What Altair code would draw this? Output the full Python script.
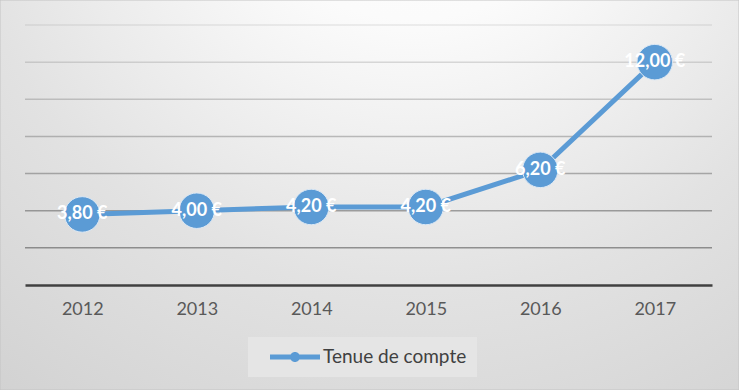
import altair as alt
import pandas as pd

years = ["2012", "2013", "2014", "2015", "2016", "2017"]
values = [3.80, 4.00, 4.20, 4.20, 6.20, 12.00]
series = "Tenue de compte"
grid_values = [2, 4, 6, 8, 10, 12, 14]

df = pd.DataFrame({"year": years, "value": values, "serie": [series] * len(years)})
grid_df = pd.DataFrame({"value": grid_values})
bg = pd.DataFrame({"k": [0]})

BLUE = "#5B9BD5"
FONT = "Lato"

background = alt.Chart(bg).mark_rect(
    fill={
        "gradient": "radial",
        "x1": 0.56, "y1": 0.0, "r1": 0.0,
        "x2": 0.56, "y2": 0.0, "r2": 1.05,
        "stops": [
            {"offset": 0.0, "color": "#ffffff"},
            {"offset": 0.25, "color": "#fbfbfb"},
            {"offset": 0.6, "color": "#e2e2e2"},
            {"offset": 1.0, "color": "#cdcdcd"},
        ],
    },
    stroke="#c4c4c4",
    strokeWidth=1,
).encode(
    x=alt.value(-25), x2=alt.value(714), y=alt.value(-25), y2=alt.value(365)
)

x_enc = alt.X(
    "year:O",
    scale=alt.Scale(type="point", padding=0.5),
    axis=alt.Axis(
        title=None, labelAngle=0, labelFont=FONT, labelFontSize=18,
        labelColor="#595959", labelPadding=15, ticks=False,
        domainColor="#404040", domainWidth=2.5, grid=False, zindex=1,
    ),
)
y_scale = alt.Scale(domain=[0, 14], nice=False, zero=True)
y_enc = alt.Y("value:Q", scale=y_scale, axis=None)

grid = alt.Chart(grid_df).mark_rule(color="#5a5a5a", strokeWidth=1.5).encode(
    y=alt.Y("value:Q", scale=y_scale, axis=None),
    x=alt.value(0),
    x2=alt.value(687),
    opacity=alt.Opacity(
        "value:Q", scale=alt.Scale(domain=[2, 14], range=[0.62, 0.12]), legend=None
    ),
)

legend_sym = (
    "M-2.5,-0.25L2.5,-0.25L2.5,0.25L-2.5,0.25Z"
    "M-0.5,0A0.5,0.5,0,1,1,0.5,0A0.5,0.5,0,1,1,-0.5,0Z"
)

line = alt.Chart(df).mark_line(strokeWidth=5).encode(
    x=x_enc,
    y=y_enc,
    color=alt.Color(
        "serie:N",
        scale=alt.Scale(domain=[series], range=[BLUE]),
        legend=alt.Legend(
            title=None, orient="none", legendX=223, legendY=312,
            direction="horizontal",
            symbolType=legend_sym, symbolSize=400, symbolStrokeWidth=0,
            symbolFillColor=BLUE, symbolOffset=27,
            labelFont=FONT, labelFontSize=19, labelColor="#404040",
            labelOffset=18, padding=10, fillColor="#e5e5e5",
        ),
    ),
)

points = alt.Chart(df).mark_circle(
    size=1260, opacity=1, color=BLUE, stroke="#dbe8f5", strokeWidth=1
).encode(x=x_enc, y=y_enc)

labels = alt.Chart(df).transform_calculate(
    lab="replace(format(datum.value, '.2f'), '.', ',') + ' €'"
).mark_text(
    font=FONT, fontSize=18, fontWeight="bold", color="white", baseline="middle", align="center"
).encode(x=x_enc, y=y_enc, text="lab:N")

chart = alt.layer(background, grid, line, points, labels).properties(
    width=687, height=260,
    padding={"left": 25, "top": 25, "right": 27, "bottom": 105},
    autosize=alt.AutoSizeParams(type="none"),
    background="#d6d6d6",
).configure_view(stroke=None)

chart.save("out.html", embed_options={"renderer": "svg", "actions": False})
